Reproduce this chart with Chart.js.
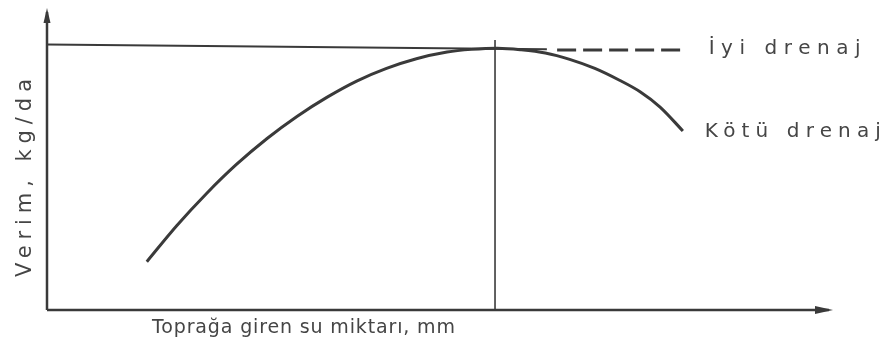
<!DOCTYPE html>
<html>
  <head>
    <meta charset="utf-8" />
    <title>Verim ve toprağa giren su miktarı</title>
    <script src="https://cdn.jsdelivr.net/npm/chart.js@4"></script>
    <style>
      body { margin: 0; background: #fff; }
      #wrap { width: 888px; height: 351px; }
    </style>
  </head>
  <body>
    <div id="wrap"><canvas id="yieldCanvas"></canvas></div>
    <script>
      // Water entering the soil (relative units, no ticks on the axis)
      const waterAmount = [12.7, 16.5, 20.3, 24.1, 28.0, 31.8, 35.6, 39.4, 43.2, 47.0, 50.9, 54.0, 57.3, 60.2, 63.4, 66.5, 69.7, 72.9, 75.5, 78.0, 80.9];
      // Yield with poor drainage (relative units)
      const yieldPoorDrainage = [16.0, 27.9, 38.6, 48.2, 56.8, 64.1, 70.4, 75.8, 80.0, 83.2, 85.4, 86.3, 86.7, 86.2, 85.1, 83.0, 80.0, 76.0, 72.2, 67.2, 59.3];
      // Maximum yield line, then its dashed continuation for good drainage
      const maxYieldX = [0, 63.6];
      const maxYieldY = [87.9, 86.3];
      const goodDrainageX = [64.9, 81.0];
      const goodDrainageY = [86.1, 86.1];
      // Optimum water amount
      const optimumX = [57.0, 57.0];
      const optimumY = [0, 89.4];

      const xTitle = "Toprağa giren su miktarı, mm";
      const yTitle = "Verim, kg/da";
      const goodLabel = "İyi drenaj";
      const poorLabel = "Kötü drenaj";

      const ink = "#3a3a3a";
      const textInk = "#454545";

      function toPoints(xs, ys) {
        return xs.map((v, i) => ({ x: v, y: ys[i] }));
      }

      // stretch a label to a given width with letter spacing
      function spacedText(ctx, text, left, cy, width) {
        ctx.letterSpacing = "0px";
        const w = ctx.measureText(text).width;
        const sp = Math.max(0, (width - w) / (text.length - 1));
        ctx.letterSpacing = sp + "px";
        ctx.fillText(text, left, cy);
        ctx.letterSpacing = "0px";
      }

      const axesAndText = {
        id: "axesAndText",
        beforeDatasetsDraw(chart) {
          const { ctx } = chart;
          const x = chart.scales.x, y = chart.scales.y;
          const x0 = x.getPixelForValue(0), y0 = y.getPixelForValue(0);
          const xEnd = x.getPixelForValue(100), yEnd = y.getPixelForValue(100);
          ctx.save();
          ctx.strokeStyle = ink;
          ctx.fillStyle = ink;
          ctx.lineWidth = 2.5;
          ctx.beginPath();
          ctx.moveTo(x0, y0);
          ctx.lineTo(xEnd - 4, y0);
          ctx.moveTo(x0, y0);
          ctx.lineTo(x0, yEnd + 4);
          ctx.stroke();
          // arrow heads
          ctx.beginPath();
          ctx.moveTo(x0, yEnd);
          ctx.lineTo(x0 - 3.5, yEnd + 15);
          ctx.lineTo(x0 + 3.5, yEnd + 15);
          ctx.closePath();
          ctx.fill();
          ctx.beginPath();
          ctx.moveTo(xEnd, y0);
          ctx.lineTo(xEnd - 18, y0 - 4);
          ctx.lineTo(xEnd - 18, y0 + 4);
          ctx.closePath();
          ctx.fill();
          ctx.restore();
        },
        afterDraw(chart) {
          const { ctx } = chart;
          const x = chart.scales.x, y = chart.scales.y;
          const x0 = x.getPixelForValue(0), y0 = y.getPixelForValue(0);
          ctx.save();
          ctx.fillStyle = textInk;
          ctx.textAlign = "left";
          ctx.textBaseline = "middle";

          ctx.font = '19px "DejaVu Sans"';
          spacedText(ctx, xTitle, x0 + 105, y0 + 18, 303);

          ctx.font = '20px "DejaVu Sans"';
          const gx = x.getPixelForValue(goodDrainageX[1]);
          const gy = y.getPixelForValue(goodDrainageY[1]);
          spacedText(ctx, goodLabel, gx + 25, gy - 1, 152);

          const last = waterAmount.length - 1;
          const px = x.getPixelForValue(waterAmount[last]);
          const py = y.getPixelForValue(yieldPoorDrainage[last]);
          spacedText(ctx, poorLabel, px + 22, py + 1, 176);

          ctx.font = '21px "DejaVu Sans"';
          ctx.translate(x0 - 21, y0 - 33);
          ctx.rotate(-Math.PI / 2);
          spacedText(ctx, yTitle, 0, 0, 198);
          ctx.restore();
        },
      };

      const ctx = document.getElementById("yieldCanvas").getContext("2d");
      const yieldChart = new Chart(ctx, {
        type: "scatter",
        data: {
          datasets: [
            {
              data: toPoints(waterAmount, yieldPoorDrainage),
              borderColor: ink,
              borderWidth: 3,
              tension: 0.35,
            },
            {
              data: toPoints(maxYieldX, maxYieldY),
              borderColor: ink,
              borderWidth: 2,
            },
            {
              data: toPoints(goodDrainageX, goodDrainageY),
              borderColor: ink,
              borderWidth: 3,
              borderDash: [19, 7],
            },
            {
              data: toPoints(optimumX, optimumY),
              borderColor: ink,
              borderWidth: 1.6,
            },
          ],
        },
        options: {
          responsive: true,
          maintainAspectRatio: false,
          animation: false,
          showLine: true,
          pointRadius: 0,
          pointHoverRadius: 0,
          layout: { padding: { left: 47, right: 55, top: 8, bottom: 41 } },
          plugins: {
            legend: { display: false },
            tooltip: { enabled: false },
          },
          scales: {
            x: { display: false, min: 0, max: 100 },
            y: { display: false, min: 0, max: 100 },
          },
        },
        plugins: [axesAndText],
      });
    </script>
  </body>
</html>
